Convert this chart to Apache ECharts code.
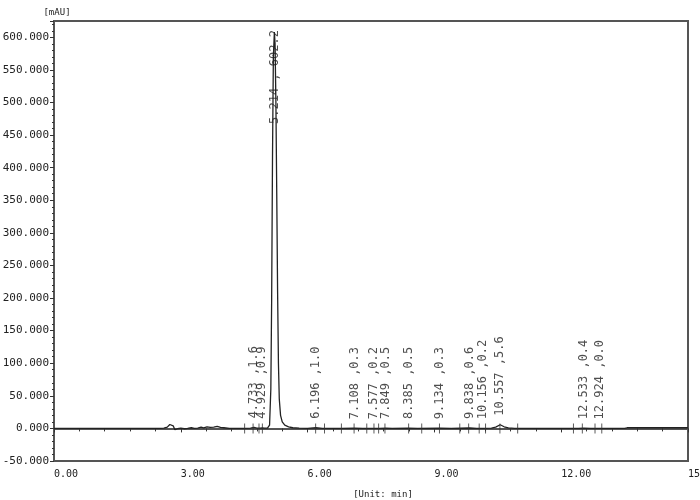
<!DOCTYPE html>
<html><head><meta charset="utf-8">
<script src="https://cdn.jsdelivr.net/npm/echarts/dist/echarts.min.js"></script>
<style>html,body{margin:0;padding:0;background:#fff}#c{width:700px;height:500px}</style>
</head><body><div id="c"></div>
<script>
// Chromatogram signal (time in min, absorbance in mAU)
const sigTime = [0.00, 2.50, 2.60, 2.68, 2.74, 2.78, 2.82, 2.86, 2.92, 3.00, 3.08, 3.16, 3.25, 3.32, 3.40, 3.48, 3.54, 3.62, 3.70, 3.78, 3.86, 3.94, 4.02, 4.15,
  4.50, 4.65, 4.733, 4.80, 4.88, 4.929, 4.98, 5.05, 5.10, 5.13, 5.15, 5.17, 5.19, 5.214, 5.23, 5.25, 5.27, 5.29, 5.31, 5.33, 5.36, 5.40, 5.46, 5.55, 5.65, 5.80,
  6.00, 6.196, 6.35, 6.80, 7.108, 7.30, 7.577, 7.70, 7.849, 8.00, 8.385, 8.60, 9.134, 9.40, 9.838, 10.00, 10.156, 10.35, 10.45, 10.557, 10.65, 10.75, 10.90, 11.20,
  12.40, 12.533, 12.70, 12.924, 13.50, 13.56, 15.00];
const sigValue = [0, 0, 0.3, 2, 6, 8, 4, -2, -0.5, 0.5, -0.5, 0, 1, 0, 0.5, 2, 1, 2.5, 1.5, 2, 3, 1.5, 1, 0,
  0, 0.3, 1.6, 0.5, 0.3, 0.9, 0.3, 0.5, 5, 60, 200, 420, 570, 608, 590, 500, 360, 210, 100, 45, 20, 10, 5, 2.5, 1, 0.3,
  0.2, 1.0, 0.2, 0, 0.3, 0, 0.2, 0.1, 0.5, 0, 0.5, 0, 0.3, 0, 0.6, 0.1, 0.2, 0.3, 2, 5.6, 2.5, 0.8, 0.2, 0,
  0, 0.4, 0, 0, 0, 1, 1];

// Detected peaks
const peakTimes = [4.733, 4.929, 5.214, 6.196, 7.108, 7.577, 7.849, 8.385, 9.134, 9.838, 10.156, 10.557, 12.533, 12.924];
const peakHeights = [1.6, 0.9, 608, 1.0, 0.3, 0.2, 0.5, 0.5, 0.3, 0.6, 0.2, 5.6, 0.4, 0.0];
const peakLabels = ['4.733 ,1.6', '4.929 ,0.9', '5.214 , 602.2', '6.196 ,1.0', '7.108 ,0.3', '7.577 ,0.2', '7.849 ,0.5',
  '8.385 ,0.5', '9.134 ,0.3', '9.838 ,0.6', '10.156 ,0.2', '10.557 ,5.6', '12.533 ,0.4', '12.924 ,0.0'];

// Integration start/end markers on the baseline
const markTimes = [4.51, 4.71, 4.85, 4.93, 6.19, 6.40, 6.80, 7.10, 7.40, 7.57, 7.68, 7.83, 8.39, 8.70, 9.12, 9.60, 9.81,
  10.06, 10.21, 10.55, 10.97, 12.29, 12.50, 12.80, 12.96];

const MONO = "'DejaVu Sans Mono', monospace";
const mainIdx = 2;

const chart = echarts.init(document.getElementById('c'), null, {renderer: 'canvas'});
chart.setOption({
  animation: false,
  backgroundColor: '#fff',
  textStyle: {fontFamily: MONO, color: '#222'},
  grid: {left: 54, right: 12, top: 21, bottom: 39, show: true, borderColor: '#555', borderWidth: 2,
    containLabel: false, outerBoundsMode: 'none'},
  xAxis: {
    type: 'value', min: 0, max: 15, interval: 3,
    name: '[Unit: min]', nameLocation: 'middle', nameGap: 29,
    nameTextStyle: {fontFamily: MONO, fontSize: 9, color: '#222', padding: [0, 0, 0, 24]},
    axisLine: {lineStyle: {color: '#555', width: 2}},
    axisTick: {length: 4, lineStyle: {color: '#333'}},
    minorTick: {show: true, splitNumber: 5, length: 3, lineStyle: {color: '#333'}},
    splitLine: {show: false}, minorSplitLine: {show: false},
    axisLabel: {formatter: v => v.toFixed(2), align: 'left', margin: 8, fontFamily: MONO, fontSize: 10, color: '#222', showMaxLabel: true, hideOverlap: false}
  },
  yAxis: {
    type: 'value', min: -50, max: 625, interval: 50,
    name: '[mAU]', nameLocation: 'end', nameGap: 4,
    nameTextStyle: {fontFamily: MONO, fontSize: 9, color: '#222', align: 'center', padding: [0, 0, 0, 6]},
    axisLine: {show: true, lineStyle: {color: '#555', width: 2}},
    axisTick: {show: true, length: 4, lineStyle: {color: '#333'}},
    minorTick: {show: true, splitNumber: 5, length: 2, lineStyle: {color: '#333'}},
    splitLine: {show: false}, minorSplitLine: {show: false},
    axisLabel: {formatter: v => (Math.abs(v % 50) < 1e-9 ? v.toFixed(3) : ''), margin: 5, fontFamily: MONO, fontSize: 11, color: '#222'}
  },
  series: [
    {
      type: 'line', showSymbol: false, symbol: 'none', z: 3,
      lineStyle: {color: '#222', width: 1.3},
      data: sigTime.map((t, i) => [t, sigValue[i]])
    },
    {
      type: 'scatter', symbol: 'rect', symbolSize: [1, 10], z: 4,
      itemStyle: {color: '#333'},
      data: markTimes.map(t => [t, 0])
    },
    {
      type: 'scatter', symbolSize: 0, z: 5,
      label: {
        show: true, position: 'top', distance: 9, rotate: 90, align: 'left', verticalAlign: 'middle',
        fontFamily: MONO, fontSize: 12, color: '#222',
        formatter: p => peakLabels[p.dataIndex]
      },
      data: peakTimes.map((t, i) => i === mainIdx
        ? {value: [t, peakHeights[i]], label: {align: 'right', distance: 2}}
        : {value: [t, peakHeights[i]]})
    }
  ]
});
</script>
</body></html>
